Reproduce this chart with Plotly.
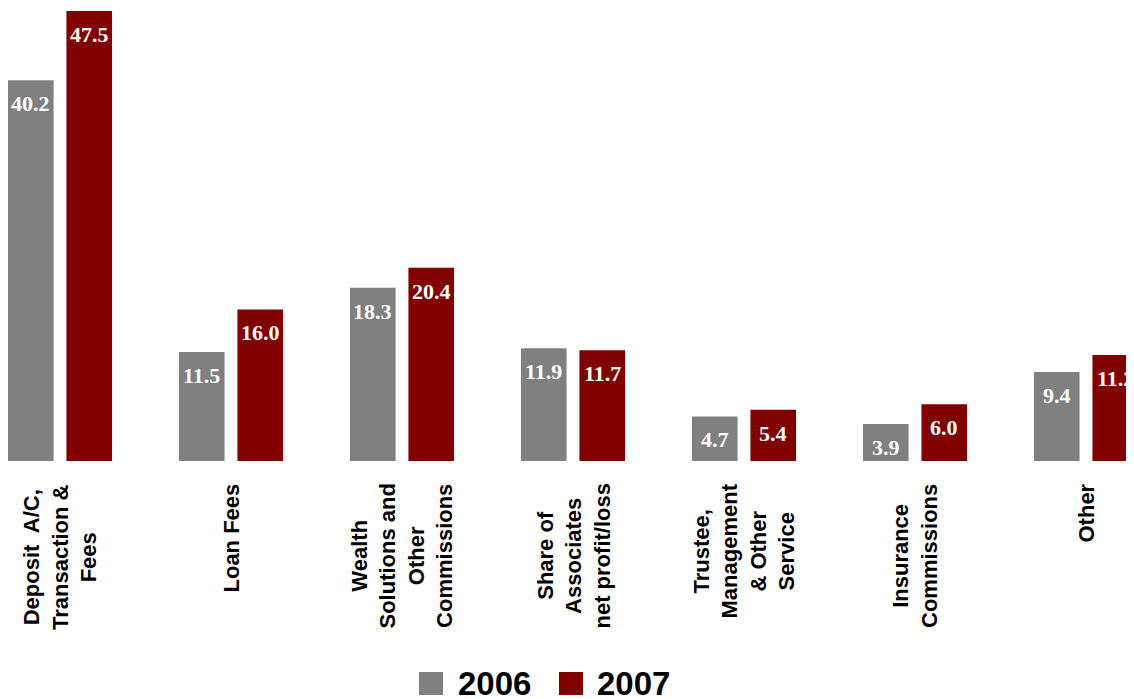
import plotly.graph_objects as go

categories = [
    "Deposit  A/C,<br>Transaction &<br>Fees",
    "Loan Fees",
    "Wealth<br>Solutions and<br>Other<br>Commissions",
    "Share of<br>Associates<br>net profit/loss",
    "Trustee,<br>Management<br>& Other<br>Service",
    "Insurance<br>Commissions",
    "Other",
]
series_names = ["2006", "2007"]
v2006 = [40.2, 11.5, 18.3, 11.9, 4.7, 3.9, 9.4]
v2007 = [47.5, 16.0, 20.4, 11.7, 5.4, 6.0, 11.2]
colors = ["#808080", "#800000"]

idx = list(range(len(categories)))

# page body has an 8px margin; figure is sized to fill the rest of the window
W, H = 1126, 691
BARGAP = 0.316
GROUPGAP = 0.22
slot = (1 - BARGAP) / 2

fig = go.Figure()
for k, (name, vals, col) in enumerate(zip(series_names, [v2006, v2007], colors)):
    fig.add_trace(go.Bar(
        x=idx, y=vals, name=name, marker=dict(color=col, line=dict(width=0)),
        showlegend=False, hoverinfo="x+y+name",
    ))
    for i, v in zip(idx, vals):
        fig.add_annotation(
            x=i + (k - 0.5) * slot, y=v, xref="x", yref="y", text=f"{v:.1f}",
            showarrow=False, xanchor="center", yanchor="top", yshift=-9,
            font=dict(family="Liberation Serif", size=22, color="white", weight="bold"),
        )

for i, c in zip(idx, categories):
    fig.add_annotation(
        x=i, y=0, xref="x", yref="y", text=c, showarrow=False, textangle=-90,
        xanchor="center", yanchor="top", yshift=-21,
        font=dict(family="Liberation Sans", size=22, color="black", weight="bold"),
    )

# legend (swatch + label)
legend_items = [(series_names[0], colors[0], 411, 448), (series_names[1], colors[1], 551, 587)]
for name, col, sx, tx in legend_items:
    fig.add_shape(type="rect", xref="paper", yref="paper",
                  x0=sx / W, x1=(sx + 24) / W,
                  y0=(453 - 687) / 450, y1=(453 - 664) / 450,
                  fillcolor=col, line=dict(width=0))
    fig.add_annotation(x=tx / W, y=(453 - 675.5) / 450, xref="paper", yref="paper",
                       text=name, showarrow=False, xanchor="left", yanchor="middle",
                       font=dict(family="Liberation Sans", size=33, color="black", weight="bold"))

fig.update_layout(
    width=W, height=H,
    margin=dict(l=0, r=0, t=3, b=238),
    paper_bgcolor="white", plot_bgcolor="white",
    barmode="group", bargap=BARGAP, bargroupgap=GROUPGAP,
    xaxis=dict(range=[(8 - 60) / 171, (1134 - 60) / 171], showticklabels=False,
               showgrid=False, zeroline=False, showline=False, ticks=""),
    yaxis=dict(range=[0, 47.5], visible=False),
    showlegend=False,
)

fig.write_html("out.html")
